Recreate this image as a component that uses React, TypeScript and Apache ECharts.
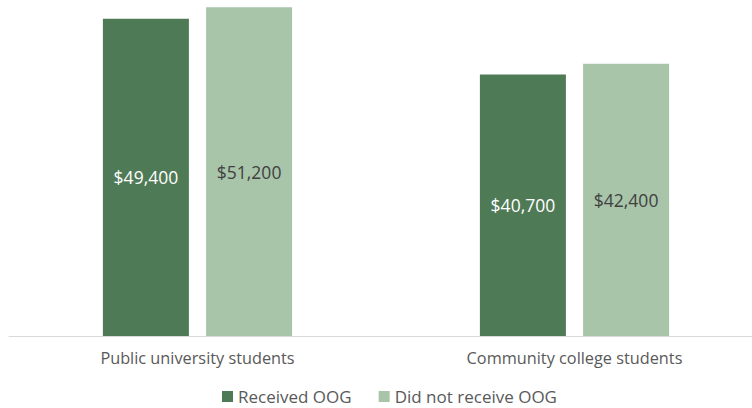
import React, { useEffect, useRef } from "react";
import * as echarts from "echarts";

const categories = ["Public university students", "Community college students"];
const receivedOOG = [49400, 40700];
const didNotReceiveOOG = [51200, 42400];
const seriesNames = ["Received OOG", "Did not receive OOG"];

const FONT = "'Open Sans', 'Noto Sans', sans-serif";

export default function App() {
  const ref = useRef<HTMLDivElement>(null);
  useEffect(() => {
    if (!ref.current) return;
    const chart = echarts.init(ref.current, undefined, { renderer: "svg" });
    const fmt = (p: any) => "$" + Number(p.value).toLocaleString("en-US");
    chart.setOption({
      animation: false,
      textStyle: { fontFamily: FONT },
      grid: {
        left: 9,
        width: 754,
        top: 2,
        bottom: 72,
        containLabel: false,
        outerBoundsMode: "none",
      },
      legend: {
        bottom: -2,
        left: 217,
        itemWidth: 11,
        itemHeight: 11,
        itemGap: 27,
        icon: "rect",
        textStyle: { color: "#595959", fontSize: 17, fontFamily: FONT },
        data: seriesNames,
      },
      xAxis: {
        type: "category",
        data: categories,
        axisLine: { lineStyle: { color: "#D9D9D9", width: 1 } },
        axisTick: { show: false },
        axisLabel: { color: "#595959", fontSize: 16.3, margin: 14, fontFamily: FONT },
      },
      yAxis: {
        type: "value",
        min: 0,
        max: 52000,
        show: false,
        splitLine: { show: false },
      },
      series: [
        {
          name: seriesNames[0],
          type: "bar",
          data: receivedOOG,
          barWidth: 86,
          barGap: "20%",
          itemStyle: { color: "#4F7A56" },
          label: {
            show: true,
            position: "inside",
            formatter: fmt,
            color: "#FFFFFF",
            fontSize: 17.5,
            fontFamily: FONT,
          },
        },
        {
          name: seriesNames[1],
          type: "bar",
          data: didNotReceiveOOG,
          barWidth: 86,
          barGap: "20%",
          itemStyle: { color: "#A8C5AA" },
          label: {
            show: true,
            position: "inside",
            formatter: fmt,
            color: "#404040",
            fontSize: 17.5,
            fontFamily: FONT,
          },
        },
      ],
    });
    return () => chart.dispose();
  }, []);
  return <div ref={ref} style={{ width: 752, height: 408, position: "absolute", left: 0, top: 0 }} />;
}
